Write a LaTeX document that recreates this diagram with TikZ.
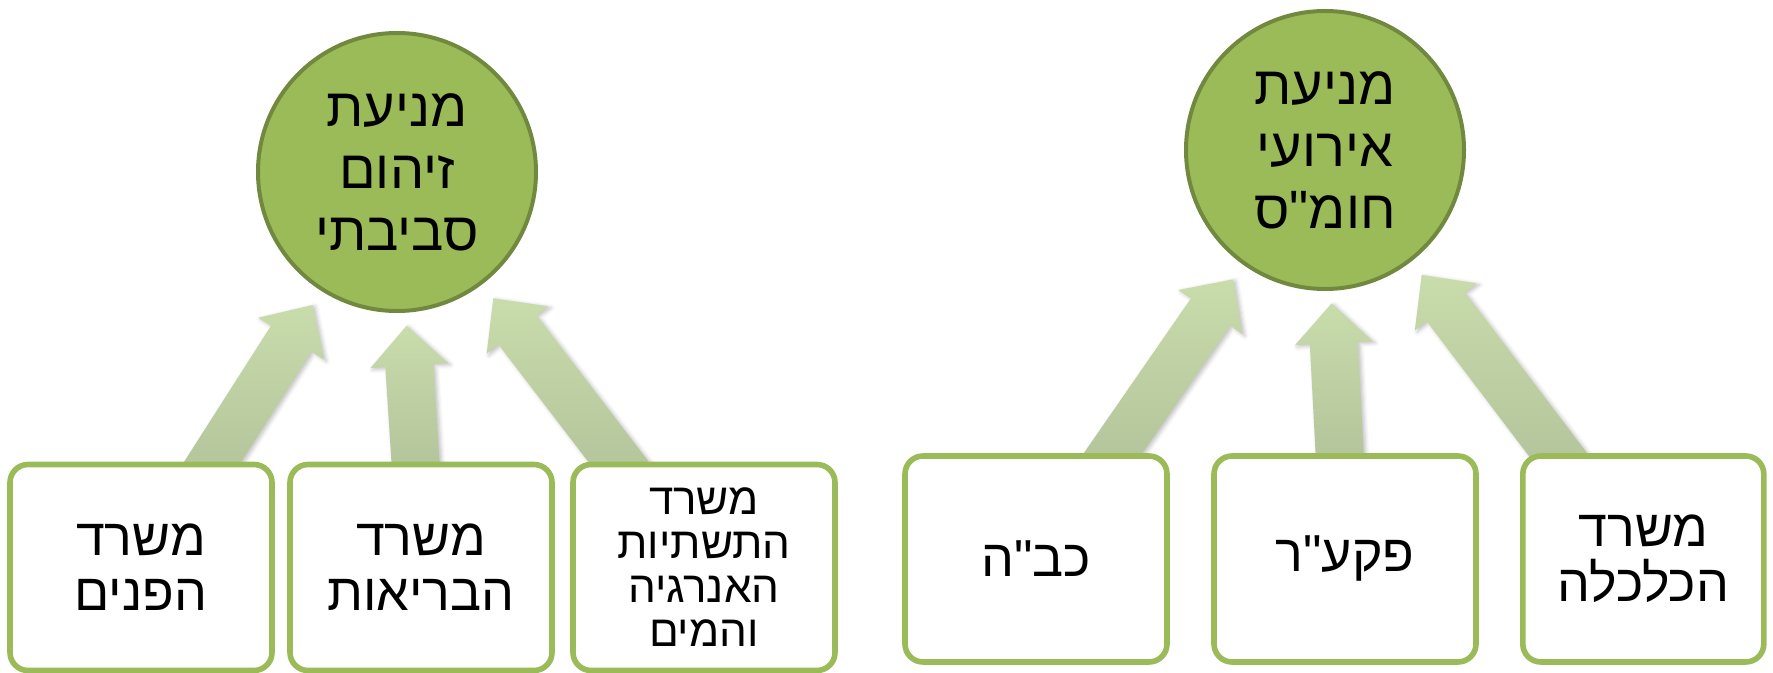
\documentclass[tikz,border=0pt]{standalone}
\usepackage{fontspec}
\usetikzlibrary{calc,shadows.blur}
\newfontfamily\heb[Script=Hebrew]{Liberation Sans}
\TeXXeTstate=1
\definecolor{circfill}{HTML}{9BBB59}
\definecolor{circline}{HTML}{71893F}
\definecolor{boxline}{HTML}{9BBB59}
\definecolor{arrtop}{HTML}{C9DCAB}
\definecolor{arrbot}{HTML}{B2C29A}
\newcommand\R[1]{\beginR #1\endR}
\newcommand\blockarrow[2]{%
 \coordinate (#1x) at ($(#1)!-8pt!(#2)$);
 \coordinate (#1h) at ($(#2)!20pt!(#1)$);
 \path[blockarr] ($(#1x)!12pt!90:(#2)$) -- ($(#1h)!12pt!90:(#2)$) -- ($(#1h)!19.5pt!90:(#2)$) -- (#2) -- ($(#1h)!19.5pt!-90:(#2)$) -- ($(#1h)!12pt!-90:(#2)$) -- ($(#1x)!12pt!-90:(#2)$) -- cycle;}
\tikzset{
 blockarr/.style={top color=arrtop, bottom color=arrbot, draw=none,
   blur shadow={shadow xshift=1.2pt, shadow yshift=-0.8pt, shadow blur radius=2pt, shadow opacity=25}},
 goal/.style={circle, fill=circfill, draw=circline, line width=2pt, minimum size=139pt, inner sep=0pt,
   align=center, font=\heb\fontsize{27}{31}\selectfont},
 office/.style={rectangle, rounded corners=9pt, fill=white, draw=boxline, line width=2.8pt,
   minimum width=131pt, minimum height=103pt, inner sep=0pt, align=center,
   font=\heb\fontsize{26}{27.5}\selectfont},
 officesmall/.style={office, font=\heb\fontsize{22}{22}\selectfont},
}
\begin{document}
\begin{tikzpicture}[x=0.5pt,y=-0.5pt]
\useasboundingbox (0,0) rectangle (1773,673);
% arrow end points
\coordinate (t1) at (212,462.7);  \coordinate (p1) at (312.7,305);
\coordinate (t2) at (415.5,462);  \coordinate (p2) at (406.7,325.7);
\coordinate (t3) at (619.2,462.7);\coordinate (p3) at (493.3,298.3);
\coordinate (t4) at (1111.7,455); \coordinate (p4) at (1233.3,279.3);
\coordinate (t5) at (1339.7,455); \coordinate (p5) at (1331.7,303.3);
\coordinate (t6) at (1558.3,455); \coordinate (p6) at (1421.7,275);
\blockarrow{t1}{p1}
\blockarrow{t2}{p2}
\blockarrow{t3}{p3}
\blockarrow{t4}{p4}
\blockarrow{t5}{p5}
\blockarrow{t6}{p6}
% boxes
\node[office] (b1) at (141,567.5) {\R{משרד}\\\R{הפנים}};
\node[office] (b2) at (421,567.5) {\R{משרד}\\\R{הבריאות}};
\node[officesmall] (b3) at (704,567.5) {\R{משרד}\\\R{התשתיות}\\\R{האנרגיה}\\\R{והמים}};
\node[office] (b4) at (1036,559) {\R{כב"ה}};
\node[office] (b5) at (1345,559) {\R{פקע"ר}};
\node[office, minimum width=120.5pt] (b6) at (1643.3,559) {\R{משרד}\\\R{הכלכלה}};
% goals
\node[goal] (c1) at (397,172) {\R{מניעת}\\\R{זיהום}\\\R{סביבתי}};
\node[goal] (c2) at (1325,150) {\R{מניעת}\\\R{אירועי}\\\R{חומ"ס}};
\end{tikzpicture}
\end{document}
